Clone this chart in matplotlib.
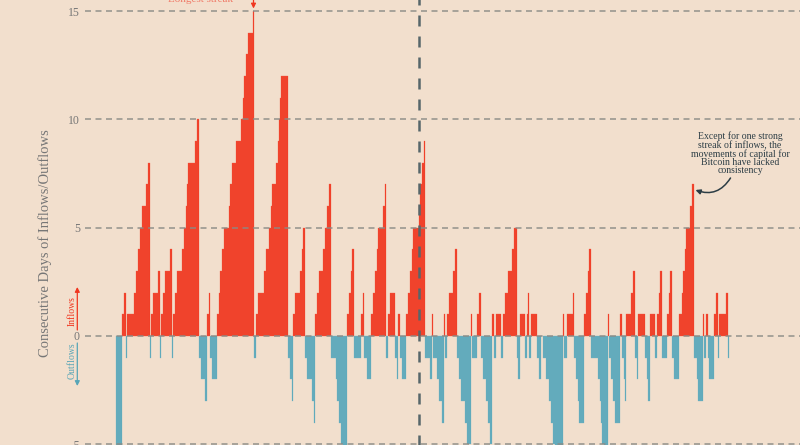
import numpy as np
import pandas as pd
import matplotlib
matplotlib.use("Agg")
import matplotlib.pyplot as plt

# consecutive-day counter, stored as runs: counter value and how many days it held
STREAK_VALUES = [
    -6, -7, -8,
    1, 2, -1,
    1, 2, 3, 4, 5, 6, 7, 8, -1,
    1, 2, 3, -1,
    1, 2, 3, 4, -1,
    1, 2, 3, 4, 5, 6, 7, 8, 9, 10,
    -1, -2, -3,
    1, 2, -1, -2,
    1, 2, 3, 4, 5, 6, 7, 8, 9, 10, 11, 12, 13, 14, 15, -1,
    1, 2, 3, 4, 5, 6, 7, 8, 9, 10, 11, 12,
    -1, -2, -3,
    1, 2, 3, 4, 5,
    -1, -2, -3, -4,
    1, 2, 3, 4, 5, 6, 7,
    -1, -2, -3, -4, -5, -6,
    1, 2, 3, 4, -1,
    1, 2, -1, -2,
    1, 2, 3, 4, 5, 6, 7, -1,
    1, 2, -1, -2, 1, -1, -2,
    1, 2, 3, 4, 5, 6, 7, 8, 9,
    -1, -2, 1,
    -1, -2, -3, -4, 1, -1,
    1, 2, 3, 4,
    -1, -2, -3, -4, -5, 1, -1,
    1, 2, -1, -2, -3, -4, -5,
    1, -1, 1, -1,
    1, 2, 3, 4, 5, -1, -2,
    1, -1, 1, 2, -1, 1,
    -1, -2, 0,
    -1, -2, -3, -4, -5, -6, -7, -8,
    1, -1, 1, 2,
    -1, -2, -3, -4, 1, 2, 3, 4,
    -1, -2, -3, -4, -5, -6, 1,
    -1, -2, -3, -4, 1,
    -1, -2, -3, 1, 2, 3, -1, -2,
    1, -1, -2, -3, 1, -1,
    1, 2, 3, -1, 1, 2, 3,
    -1, -2,
    1, 2, 3, 4, 5, 6, 7,
    -1, -2, -3, 1, -1, 1, -1, -2,
    1, 2, -1, 1, 2, -1,
]
STREAK_DAYS = [
    2, 2, 2,
    2, 2, 1,
    7, 2, 2, 2, 2, 4, 2, 2, 1,
    2, 5, 2, 1,
    2, 2, 5, 2, 1,
    2, 2, 5, 2, 2, 1, 1, 7, 2, 2,
    2, 4, 2,
    2, 1, 2, 5,
    2, 1, 2, 2, 5, 1, 2, 4, 5, 2, 1, 2, 2, 5, 1, 2,
    2, 6, 2, 3, 2, 1, 4, 2, 1, 1, 1, 7,
    2, 2, 1,
    2, 5, 2, 1, 2,
    2, 5, 2, 1,
    2, 2, 4, 2, 2, 2, 2,
    5, 1, 2, 2, 2, 4,
    2, 2, 1, 2, 7,
    2, 1, 3, 4,
    2, 2, 2, 1, 5, 2, 1, 2,
    2, 5, 2, 1, 2, 2, 4,
    2, 2, 2, 1, 6, 1, 2, 2, 1,
    5, 2, 1,
    4, 2, 3, 2, 1, 2,
    2, 4, 2, 2,
    2, 2, 4, 2, 4, 1, 5,
    2, 2, 2, 3, 2, 2, 2,
    2, 2, 5, 2,
    2, 3, 4, 2, 3, 1, 2,
    5, 2, 1, 1, 2, 6,
    2, 2, 2,
    3, 3, 2, 2, 2, 3, 4, 1,
    1, 3, 6, 1,
    2, 2, 1, 5, 2, 2, 1, 2,
    7, 2, 1, 1, 2, 4, 1,
    2, 2, 2, 5, 2,
    2, 1, 1, 5, 2, 2, 2, 1,
    7, 2, 1, 2, 5, 2,
    2, 1, 2, 5, 2, 1, 2,
    2, 5,
    3, 1, 2, 1, 4, 2, 2,
    3, 1, 5, 1, 2, 2, 1, 5,
    2, 2, 1, 7, 2, 1,
]

START_DATE = "2024-01-08"
MARKER_DATE = "2024-11-05"

Y_TICKS = [-5, 0, 5, 10, 15]
Y_TICK_LABELS = ["\u22125", "0", "5", "10", "15"]

Y_LABEL = "Consecutive Days of Inflows/Outflows"
NOTE_TEXT = ("Except for one strong\nstreak of inflows, the\n"
             "movements of capital for\nBitcoin have lacked\nconsistency")
TOP_NOTE = "Longest streak"

# colours
BG = "#f2dfcd"
RED = "#f0361f"
RED_EDGE = "#f25a44"
BLUE = "#57a5b7"
BLUE_EDGE = "#78b7c6"
GRID = "#8a8b86"
SLATE = "#57666a"
INK = "#2c3d45"
GRAY = "#767676"

plt.rcParams["font.family"] = ["Liberation Serif", "DejaVu Serif"]

W, H = 800, 445


def fx(px):
    return px / W


def fy(py):
    return 1 - py / H


values = np.repeat(STREAK_VALUES, STREAK_DAYS)
dates = pd.date_range(START_DATE, periods=len(values), freq="D")

fig = plt.figure(figsize=(W / 100, H / 100), dpi=100, facecolor=BG)
# axes runs past the bottom/top of the canvas (picture is cropped)
ax = fig.add_axes([fx(85), 1 - 466 / H, fx(800) - fx(85), 487.5 / H])
ax.set_facecolor(BG)

face = np.where(values > 0, RED, BLUE)
edge = np.where(values > 0, RED_EDGE, BLUE_EDGE)
ax.bar(dates, values, width=1.0, color=face, edgecolor=edge, linewidth=0.2, zorder=2)

for y in Y_TICKS:
    ax.axhline(y, color=GRID, lw=1.2, ls=(0, (3.6, 2.7)), alpha=0.85, zorder=3)
ax.axvline(pd.Timestamp(MARKER_DATE), color=SLATE, lw=1.8, ls=(0, (4.4, 4.0)), zorder=4)

d0 = matplotlib.dates.date2num(dates[0])
ax.set_xlim(d0 - 31.5, d0 + 683.5)
ax.set_ylim(-6, 16.5)
ax.set_xticks([])
ax.set_yticks(Y_TICKS, Y_TICK_LABELS)
ax.tick_params(axis="y", length=0, pad=3.6, labelsize=8.5, labelcolor=GRAY)
for s in ax.spines.values():
    s.set_visible(False)

# left labels
fig.text(fx(45), fy(243.5), Y_LABEL, rotation=90, ha="center", va="center",
         fontsize=10.5, color=GRAY)
fig.text(fx(72), fy(311.5), "Inflows", rotation=90, ha="center", va="center",
         fontsize=7, color=RED)
fig.text(fx(72), fy(361), "Outflows", rotation=90, ha="center", va="center",
         fontsize=7, color=BLUE)
ax.annotate("", xy=(fx(77.3), fy(287)), xytext=(fx(77.3), fy(330)),
            xycoords="figure fraction", textcoords="figure fraction",
            arrowprops=dict(arrowstyle="-|>", color=RED, lw=0.9,
                            mutation_scale=7, shrinkA=0, shrinkB=0))
ax.annotate("", xy=(fx(77.3), fy(386)), xytext=(fx(77.3), fy(343)),
            xycoords="figure fraction", textcoords="figure fraction",
            arrowprops=dict(arrowstyle="-|>", color=BLUE, lw=0.9,
                            mutation_scale=7, shrinkA=0, shrinkB=0))

# top note (cut off by the crop) and arrow to the 15-day streak
fig.text(fx(233), fy(1.5), TOP_NOTE, ha="right", va="baseline",
         fontsize=8, color="#f07a68")
ax.annotate("", xy=(fx(253.5), fy(8.5)), xytext=(fx(253.5), fy(-10)),
            xycoords="figure fraction", textcoords="figure fraction",
            arrowprops=dict(arrowstyle="-|>", color=RED, lw=0.9,
                            mutation_scale=7, shrinkA=0, shrinkB=0))

# right note
fig.text(fx(740), fy(153.5), NOTE_TEXT, ha="center", va="center",
         fontsize=7, color=INK, linespacing=0.9)
ax.annotate("", xy=(fx(695.5), fy(190)), xytext=(fx(730.5), fy(178)),
            xycoords="figure fraction", textcoords="figure fraction",
            arrowprops=dict(arrowstyle="-|>", color=INK, lw=1.1,
                            mutation_scale=7, shrinkA=0, shrinkB=0,
                            connectionstyle="arc3,rad=-0.4"))

fig.savefig("out.png", dpi=100, facecolor=BG)
